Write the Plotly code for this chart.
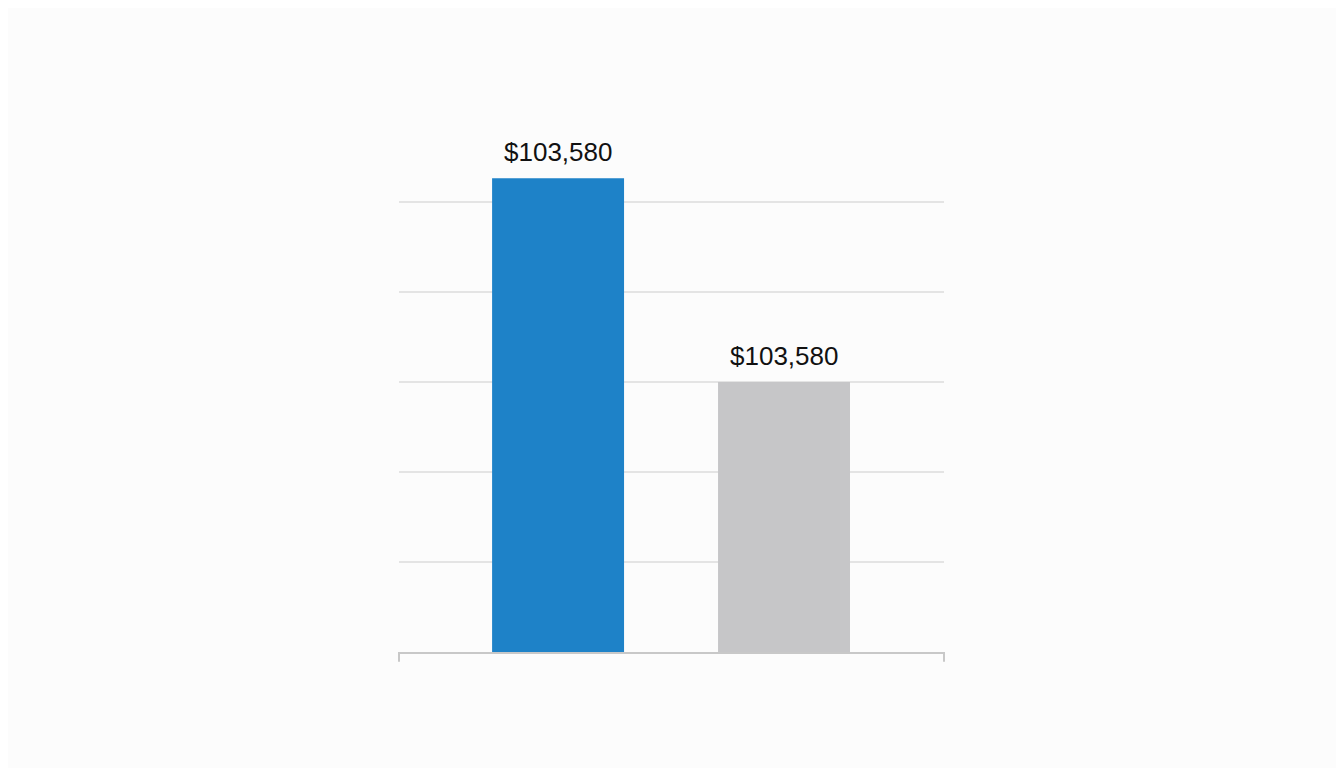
import plotly.graph_objects as go

categories = [0, 1]
values = [105.3, 60.0]
labels = ["$103,580", "$103,580"]
colors = ["#1e82c8", "#c6c6c8"]

fig = go.Figure(go.Bar(
    x=categories, y=values,
    marker=dict(color=colors, line=dict(width=0)), width=0.584))
for c, v, t in zip(categories, values, labels):
    fig.add_annotation(x=c, y=v, text=t, showarrow=False, yanchor="bottom", yshift=9,
                       font=dict(size=26, color="#111", family="Liberation Sans"))
fig.update_layout(
    width=1344, height=768, margin=dict(l=391, r=408, t=104, b=124),
    paper_bgcolor="#fcfcfc", plot_bgcolor="#fcfcfc", showlegend=False,
    xaxis=dict(range=[-0.704, 1.708], showticklabels=False, showgrid=False, zeroline=False,
               showline=True, linecolor="#c8c8c8", linewidth=2),
    yaxis=dict(range=[0, 120.05], tickvals=[20, 40, 60, 80, 100, 120], showticklabels=False,
               gridcolor="#e4e4e4", gridwidth=2, zeroline=False),
)
for xp in [0, 1]:
    fig.add_shape(type="line", xref="paper", yref="paper", x0=xp, x1=xp, y0=0, y1=-0.018,
                  line=dict(color="#c8c8c8", width=2))
fig.write_html("out.html")
